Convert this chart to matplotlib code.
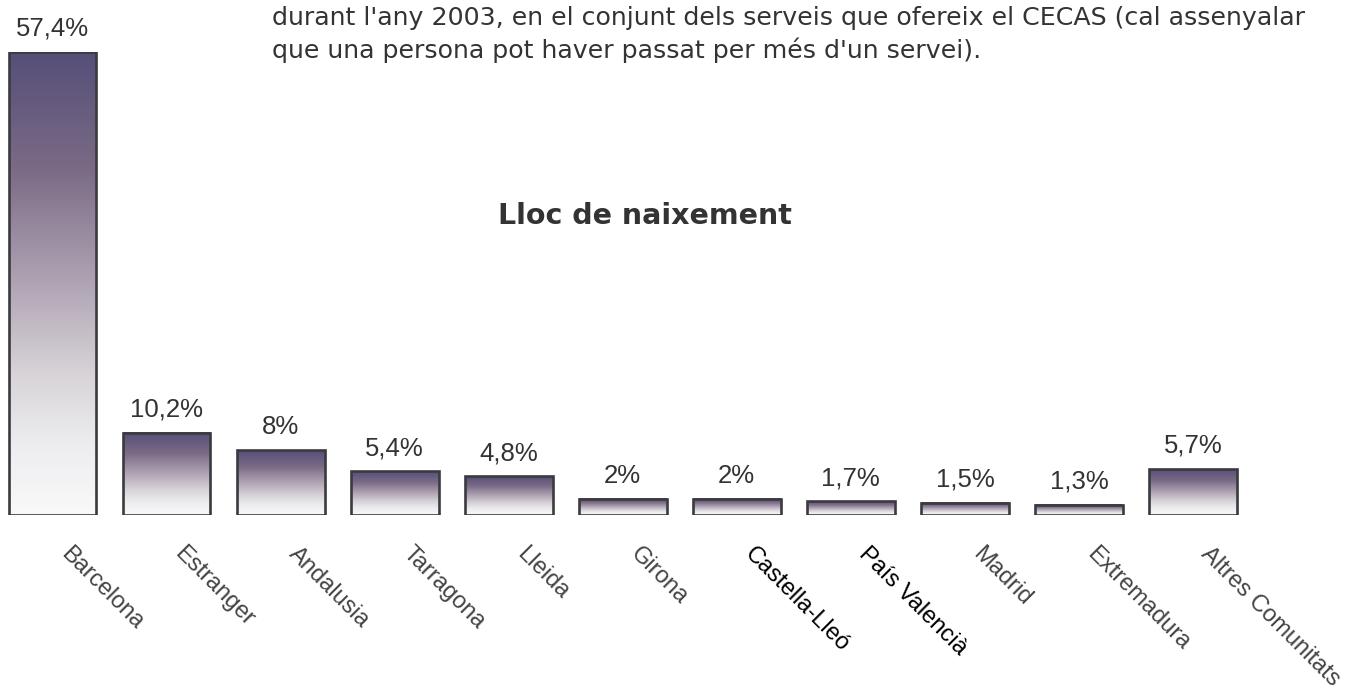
import numpy as np
import matplotlib.pyplot as plt
from matplotlib.colors import LinearSegmentedColormap

# data
categories = ["Barcelona", "Estranger", "Andalusia", "Tarragona", "Lleida", "Girona",
              "Castella-Lleó", "País Valencià", "Madrid", "Extremadura", "Altres Comunitats"]
values = [57.4, 10.2, 8.0, 5.4, 4.8, 2.0, 2.0, 1.7, 1.5, 1.3, 5.7]
value_labels = ["57,4%", "10,2%", "8%", "5,4%", "4,8%", "2%", "2%", "1,7%", "1,5%", "1,3%", "5,7%"]
intro_lines = ["durant l'any 2003, en el conjunt dels serveis que ofereix el CECAS (cal assenyalar",
               "que una persona pot haver passat per més d'un servei)."]
title = "Lloc de naixement"

W, H = 1367, 699
fig = plt.figure(figsize=(W / 100, H / 100), dpi=100)

# axes placed so bar 0 sits at px 52.5 and baseline at px 515
step = 114.05
base_px, top_px = 515, 52
ax = fig.add_axes([0, (H - base_px) / H, 1, (base_px - top_px) / H])
ax.axis("off")

cmap = LinearSegmentedColormap.from_list("grad", [
    (0.0, "#f9f9f9"), (0.15, "#ededf0"), (0.30, "#d8d4d8"),
    (0.50, "#b0a4b4"), (0.75, "#7a6a85"), (1.0, "#564f79")])
grad = np.linspace(0, 1, 256).reshape(-1, 1)

width = 0.77
x = np.arange(len(categories))
bars = ax.bar(x, values, width=width, facecolor="none", edgecolor="#3a3a3f",
              linewidth=1.9, zorder=3)
for b in bars:
    x0, y0, w, h = b.get_x(), b.get_y(), b.get_width(), b.get_height()
    ax.imshow(grad, cmap=cmap, origin="lower", aspect="auto",
              extent=(x0, x0 + w, y0, y0 + h), zorder=2, interpolation="bilinear")
ax.set_xlim(-52.5 / step, (W - 52.5) / step)
ax.set_ylim(0, max(values))

for xi, v, lab in zip(x, values, value_labels):
    ax.annotate(lab, (xi, v), xytext=(0, 8), textcoords="offset points",
                ha="center", va="bottom", fontsize=18.5, color="#333333",
                family="Liberation Sans", annotation_clip=False)

for xi, cat in zip(x, categories):
    col = "#000000" if cat in ("Castella-Lleó", "País Valencià") else "#444444"
    ax.annotate(cat, (xi, 0), xytext=(14, -20), textcoords="offset points",
                ha="left", va="top", rotation=-45, rotation_mode="anchor",
                fontsize=17, color=col, family="Liberation Sans",
                annotation_clip=False)

fig.text(272 / W, 1 - 18 / H, intro_lines[0], ha="left", va="center",
         fontsize=18.2, color="#333333")
fig.text(272 / W, 1 - 50 / H, intro_lines[1], ha="left", va="center",
         fontsize=18.2, color="#333333")
fig.text(645 / W, 1 - 216 / H, title, ha="center", va="center",
         fontsize=20.5, fontweight="bold", color="#333333")

fig.savefig("out.png", dpi=100, facecolor="white")
